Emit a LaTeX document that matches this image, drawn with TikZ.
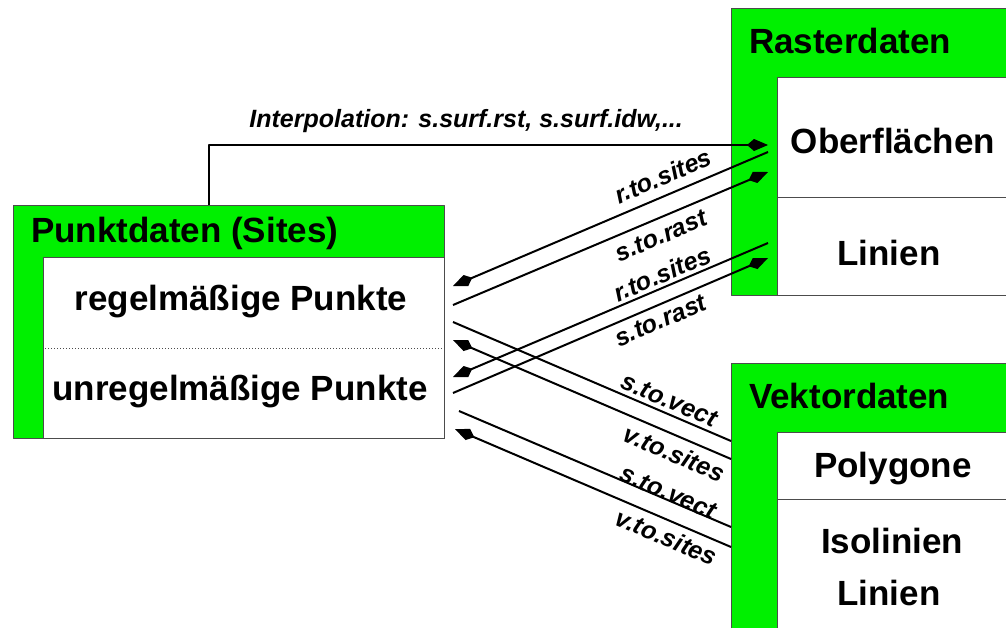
\documentclass[tikz,border=0pt]{standalone}
\usepackage{fontspec}
\setmainfont{Liberation Sans}
\usetikzlibrary{arrows.meta}
\definecolor{kastengruen}{RGB}{0,240,0}
\begin{document}
\begin{tikzpicture}[
	x=1pt,y=-1pt,
	>={Kite[length=21pt,width=12pt,inset=7pt]},
	line width=2pt,
	line join=round,
	gruen/.style={fill=kastengruen,draw=black!70,line width=1pt},
	weiss/.style={fill=white,draw=black!70,line width=1pt},
	titel/.style={font=\fontsize{35}{40}\selectfont\bfseries,anchor=base west,inner sep=0pt},
	inhalt/.style={font=\fontsize{35}{40}\selectfont\bfseries,anchor=base,inner sep=0pt},
	befehl/.style={font=\fontsize{25}{30}\selectfont\bfseries\itshape,sloped,inner sep=2pt}
	]
	\useasboundingbox (0,0) rectangle (1006,627);
	% Punktdaten
	\draw[gruen] (13,205) rectangle (444,438);
	\draw[weiss] (43,257) rectangle (444,438);
	\draw[black!70,line width=1pt,dotted] (45,348) -- (442,348);
	\node[titel] (punkt) at (30,242) {Punktdaten (Sites)};
	\node[inhalt] (regel) at (241,310) {regelmäßige Punkte};
	\node[inhalt] (unregel) at (240,400) {unregelmäßige Punkte};
	% Rasterdaten
	\draw[gruen] (731,8) rectangle (1012,295);
	\draw[weiss] (777,77) rectangle (1012,295);
	\draw[black!70,line width=1pt] (777,197) -- (1012,197);
	\node[titel] (raster) at (748,53) {Rasterdaten};
	\node[inhalt] (oberfl) at (893,153) {Oberflächen};
	\node[inhalt] (rlinien) at (889,265) {Linien};
	% Vektordaten
	\draw[gruen] (731,363) rectangle (1012,640);
	\draw[weiss] (777,432) rectangle (1012,640);
	\draw[black!70,line width=1pt] (777,499) -- (1012,499);
	\node[titel] (vektor) at (748,408) {Vektordaten};
	\node[inhalt] (polyg) at (893,477) {Polygone};
	\node[inhalt] (isolin) at (892,553) {Isolinien};
	\node[inhalt] (vlinien) at (889,605) {Linien};
	% Enden der Pfeile
	\coordinate (pkt-oben) at (209,205);
	\coordinate (ras-a) at (768,145);
	\coordinate (ras-b) at (768,152);
	\coordinate (ras-c) at (768,172);
	\coordinate (ras-d) at (768,243);
	\coordinate (ras-e) at (768,258);
	\coordinate (pkt-a) at (453,286);
	\coordinate (pkt-b) at (453,305);
	\coordinate (pkt-c) at (453,377);
	\coordinate (pkt-d) at (453,393);
	\coordinate (pkt-e) at (453,322);
	\coordinate (pkt-f) at (453,340);
	\coordinate (pkt-g) at (459,411);
	\coordinate (pkt-h) at (455,429);
	\coordinate (vek-a) at (731,441);
	\coordinate (vek-b) at (731,459);
	\coordinate (vek-c) at (731,527);
	\coordinate (vek-d) at (731,547);
	% Interpolation
	\draw[->] (pkt-oben) |- (ras-a)
		node[befehl,pos=0.73,above=9pt] (interp) {Interpolation: s.surf.rst, s.surf.idw,...};
	% Raster <-> Punkte
	\draw[->] (ras-b) -- (pkt-a) node[befehl,pos=0.31,above=7pt] (rs1) {r.to.sites};
	\draw[->] (pkt-b) -- (ras-c) node[befehl,pos=0.64,below=6pt] (sr1) {s.to.rast};
	\draw[->] (ras-d) -- (pkt-c) node[befehl,pos=0.32,above=1pt] (rs2) {r.to.sites};
	\draw[->] (pkt-d) -- (ras-e) node[befehl,pos=0.64,below=4pt] (sr2) {s.to.rast};
	% Vektor <-> Punkte
	\draw (pkt-e) -- (vek-a) node[befehl,pos=0.76,above=2pt] (sv1) {s.to.vect};
	\draw[->] (vek-b) -- (pkt-f) node[befehl,pos=0.18,below=5pt] (vs1) {v.to.sites};
	\draw (pkt-g) -- (vek-c) node[befehl,pos=0.76,above=-4pt] (sv2) {s.to.vect};
	\draw[->] (vek-d) -- (pkt-h) node[befehl,pos=0.21,below=4pt] (vs2) {v.to.sites};
\end{tikzpicture}
\end{document}
